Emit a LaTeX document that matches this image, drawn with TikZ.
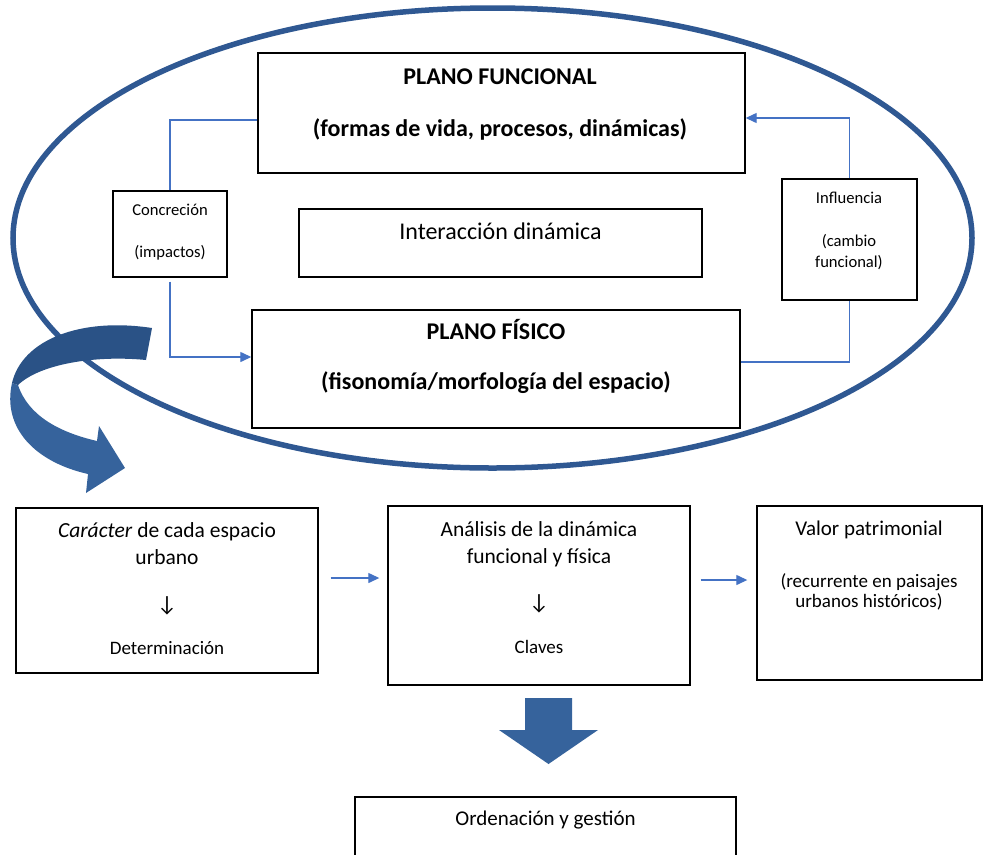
\documentclass[tikz,border=0pt]{standalone}
\usepackage{fontspec}
\setmainfont{Carlito}
\newfontfamily\dejavu{DejaVu Sans}
\usetikzlibrary{arrows.meta}
\definecolor{ellblue}{RGB}{47,88,146}
\definecolor{conblue}{RGB}{68,114,196}
\definecolor{arrdark}{RGB}{42,82,134}
\definecolor{arrlight}{RGB}{54,99,156}
\begin{document}
\begin{tikzpicture}[x=1pt,y=-1pt,
  box/.style={draw=black,line width=1.4pt,rectangle,inner sep=0pt},
  conn/.style={draw=conblue,line width=1.3pt},
  arr/.style={conn,-{Triangle[length=11pt,width=10pt]}},
  txt/.style={anchor=base,inner sep=0pt},
  bigtxt/.style={txt,font=\fontsize{24}{28}\selectfont\bfseries},
  smalltxt/.style={txt,font=\fontsize{16.6}{20}\selectfont},
  headtxt/.style={txt,font=\fontsize{21.5}{25}\selectfont},
  bottxt/.style={txt,font=\fontsize{19}{23}\selectfont},
  downtxt/.style={anchor=center,inner sep=0pt,font=\fontsize{22}{26}\selectfont}]
\useasboundingbox (0,0) rectangle (984,854);
\clip (0,0) rectangle (984,854);

% ellipse
\draw[ellblue,line width=5.5pt] (492.5,238) ellipse [x radius=479.5, y radius=230];

% boxes
\node[box,fill=white,minimum width=487pt,minimum height=120pt] (pf) at (501.5,113) {};
\node[box,fill=white,minimum width=403pt,minimum height=68pt] (inter) at (500.5,243) {};
\node[box,fill=white,minimum width=488pt,minimum height=118pt] (phys) at (496,369) {};
\node[box,fill=white,minimum width=114pt,minimum height=86pt] (conc) at (170,234) {};
\node[box,fill=white,minimum width=135pt,minimum height=121pt] (inf) at (849.5,239.5) {};
\node[box,minimum width=302pt,minimum height=165pt] (car) at (167,590.5) {};
\node[box,minimum width=302pt,minimum height=179pt] (ana) at (539,595.5) {};
\node[box,minimum width=225pt,minimum height=174pt] (val) at (869.5,593) {};
\node[box,minimum width=381pt,minimum height=100pt] (ord) at (545.5,847) {};

% texts
\node[bigtxt] (t1) at (500,84) {PLANO FUNCIONAL};
\node[bigtxt] (t2) at (500,136) {(formas de vida, procesos, dinámicas)};
\node[txt,font=\fontsize{24}{28}\selectfont] (t3) at (500.5,239) {Interacción dinámica};
\node[bigtxt] (t4) at (496,339) {PLANO FÍSICO};
\node[bigtxt] (t5) at (496,389) {(fisonomía/morfología del espacio)};
\node[smalltxt] (t6) at (170,215) {Concreción};
\node[smalltxt] (t7) at (170,257) {(impactos)};
\node[smalltxt] (t8) at (849,203) {Influencia};
\node[smalltxt] (t9) at (849,246) {(cambio};
\node[smalltxt] (t10) at (849,267) {funcional)};
\node[headtxt] (t11) at (167,537) {\textit{Carácter} de cada espacio};
\node[headtxt] (t12) at (167,564) {urbano};
\node[downtxt] (t13) at (167,606) {↓};
\node[bottxt] (t14) at (167,654) {Determinación};
\node[headtxt] (t15) at (539,536) {Análisis de la dinámica};
\node[headtxt] (t16) at (539,563) {funcional y física};
\node[downtxt] (t17) at (539,604) {↓};
\node[bottxt] (t18) at (539,653) {Claves};
\node[txt,font=\fontsize{21}{25}\selectfont] (t19) at (869,535) {Valor patrimonial};
\node[bottxt] (t20) at (869,587) {(recurrente en paisajes};
\node[bottxt] (t21) at (869,607) {urbanos históricos)};
\node[txt,font=\fontsize{21}{25}\selectfont] (t22) at (545.5,825) {Ordenación y gestión};

% connectors
\draw[conn] (conc.north) |- ([yshift=-7pt]pf.west);
\draw[arr] ([yshift=-4pt]conc.south) |- ([yshift=12pt]phys.west);
\draw[conn] ([yshift=7pt]phys.east) -| (inf.south);
\draw[arr] (inf.north) |- ([yshift=-5pt]pf.east);
\draw[arr] ([xshift=12pt,yshift=12.5pt]car.east) -- ([xshift=-8pt,yshift=17.5pt]ana.west);
\draw[arr] ([xshift=10pt,yshift=15.5pt]ana.east) -- ([xshift=-9pt,yshift=13pt]val.west);

% curved block arrow
\fill[arrlight] (12,383) .. controls (2,428) and (35,462) .. (88,474)
  -- (86,493) -- (125,468) -- (99,426) -- (97,441)
  .. controls (58,432) and (28,415) .. (18,385) -- cycle;
\fill[arrdark] (152,328) .. controls (80,317) and (22,340) .. (12,383)
  -- (18,385) .. controls (40,364) and (95,355) .. (146,360) -- cycle;

% big down arrow
\fill[arrlight] (525,698) -- (572,698) -- (572,730) -- (598,730) -- (548.5,764)
  -- (499,730) -- (525,730) -- cycle;
\end{tikzpicture}
\end{document}
